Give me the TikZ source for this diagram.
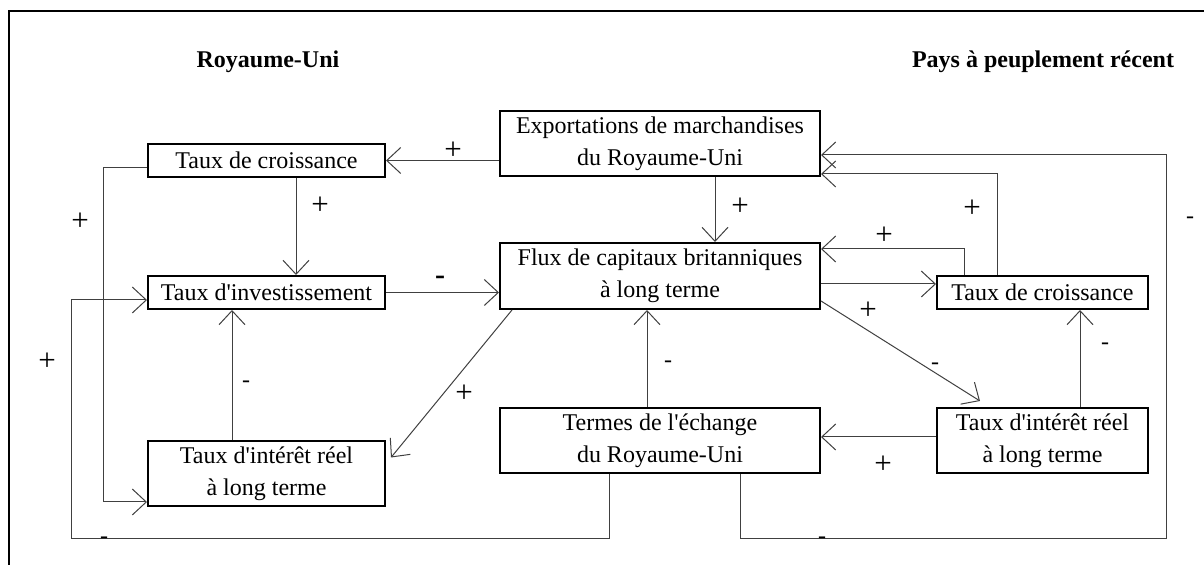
\documentclass[tikz,border=0pt]{standalone}
\usepackage{fontspec}
\setmainfont{Liberation Serif}[Ligatures=TeXOff]
\usetikzlibrary{arrows.meta,calc}

\tikzset{
  box/.style={draw, line width=1pt, align=center, inner sep=0pt, font=\fontsize{12}{16}\selectfont},
  ukbox/.style={box, minimum width=118.5pt},
  midbox/.style={box, minimum width=160pt},
  ppbox/.style={box, minimum width=105.5pt},
  oneline/.style={minimum height=16.5pt},
  twoline/.style={minimum height=32.5pt},
  link/.style={draw=black!75, line width=0.5pt, -{Straight Barb[length=7pt,width=13pt]}},
  sign/.style={font=\fontsize{12}{14}\selectfont, inner sep=0pt},
  plus/.style={font=\fontsize{15.5}{16}\selectfont, inner sep=0pt},
  title/.style={font=\bfseries\fontsize{12}{14}\selectfont, inner sep=0pt},
  frame/.style={line width=1pt}
}

\begin{document}
\begin{tikzpicture}[x=0.5pt,y=-0.5pt]
\useasboundingbox (0,0) rectangle (1204,565);
\draw[frame] (9,565) -- (9,11) -- (1204,11);

% titres
\node[title] (titreuk) at (268,62) {Royaume-Uni};
\node[title] (titrepp) at (1043,62) {Pays à peuplement récent};

% Royaume-Uni
\node[ukbox, oneline] (tcuk) at (266.5,160.5) {Taux de croissance};
\node[ukbox, oneline] (tiuk) at (266.5,292.5) {Taux d'investissement};
\node[ukbox, twoline] (iruk) at (266.5,473.5) {Taux d'intérêt réel\\ à long terme};

% centre
\node[midbox, twoline] (expo) at (660,143.5) {Exportations de marchandises\\du Royaume-Uni};
\node[midbox, twoline, minimum height=33pt] (flux) at (660,276) {Flux de capitaux britanniques\\à long terme};
\node[midbox, twoline] (term) at (660,440.5) {Termes de l'échange\\ du Royaume-Uni};

% pays a peuplement recent
\node[ppbox, oneline] (tcpp) at (1042.5,292.5) {Taux de croissance};
\node[ppbox, twoline] (irpp) at (1042.5,440.5) {Taux d'intérêt réel\\ à long terme};

% points de depart
\coordinate (a2) at ($(tcuk.south)+(29.5,0)$);
\coordinate (a3) at ($(expo.south)+(55,0)$);
\coordinate (a5) at ($(iruk.north)+(-34.5,0)$);
\coordinate (a7) at ($(term.north)+(-13,0)$);
\coordinate (a8) at ($(flux.east)+(0,8)$);
\coordinate (a9) at ($(tcpp.north)+(-78.5,0)$);
\coordinate (a10) at ($(tcpp.north)+(-45.5,0)$);
\coordinate (a11) at ($(term.south)+(80,0)$);
\coordinate (a13) at ($(irpp.north)+(37.5,0)$);
\coordinate (a14) at ($(irpp.west)+(0,-3.5)$);
\coordinate (a15) at ($(term.south)+(-51,0)$);
\coordinate (a16) at ($(tcuk.west)+(0,7.5)$);
\coordinate (coinbd) at (1166,539);
\coordinate (coinbg) at (71,539);

% liaisons
\draw[link] (expo.west |- tcuk.east) -- (tcuk.east);
\draw[link] (a2) -- (a2 |- tiuk.north);
\draw[link] (a3) -- (a3 |- flux.north);
\draw[link] (tiuk.east) -- (tiuk.east -| flux.west);
\draw[link] (a5) -- (a5 |- tiuk.south);
\draw[link] ($(flux.south west)+(13,0)$) -- ($(iruk.east)+(5,-16)$);
\draw[link] (a7) -- (a7 |- flux.south);
\draw[link] (a8) -- (a8 -| tcpp.west);
\draw[link] (a9) |- ($(flux.east)+(0,-27)$);
\draw[link] (a10) |- ($(expo.east)+(0,30.5)$);
\draw[link] (a11) |- (coinbd) |- ($(expo.east)+(0,11.5)$);
\draw[link] ($(flux.east)+(0,25)$) -- ($(irpp.north)+(-62.5,-6)$);
\draw[link] (a13) -- (a13 |- tcpp.south);
\draw[link] (a14) -- (a14 -| term.east);
\draw[link] (a15) |- (coinbg) |- ($(tiuk.west)+(0,7.5)$);
\draw[link] (a16) -| ($(iruk.west)+(-43.5,28.5)$) -- ($(iruk.west)+(0,28.5)$);

% signes
\foreach \nom/\x/\y in {s1/453/151, s2/320/206, s3/740/207, s6/464/394, s9/884/236,
  s10/972/209, s13/868/311, s16/883/465, s17/47/362, s18/80/222}
  \node[plus] (\nom) at (\x,\y) {+};
\foreach \nom/\x/\y in {s5/246/384, s7/668/364, s11/1190/220, s12/822/540,
  s14/935/366, s15/1105/346, s19/104/540}
  \node[sign] (\nom) at (\x,\y) {-};
\node[sign, font=\bfseries\fontsize{15}{16}\selectfont] (s4) at (440,280) {-};
\end{tikzpicture}
\end{document}
